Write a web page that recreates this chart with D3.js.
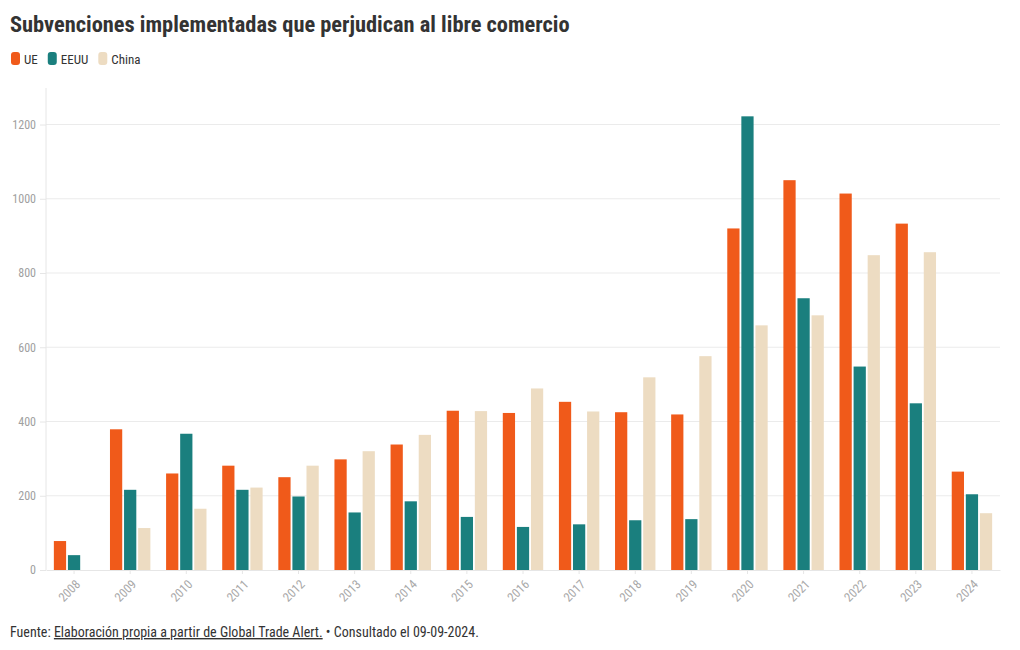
<!DOCTYPE html>
<html>
<head>
<meta charset="utf-8">
<script src="https://cdn.jsdelivr.net/npm/d3@7"></script>
<style>
  html, body { margin: 0; padding: 0; background: #fff; }
  body { font-family: "Roboto Condensed", "Liberation Sans Narrow", "DejaVu Sans Condensed", sans-serif; }
  svg text { font-family: "Roboto Condensed", "Liberation Sans Narrow", "DejaVu Sans Condensed", sans-serif; }
</style>
</head>
<body>
<svg id="chart" width="1020" height="650"></svg>
<script>
const years = ["2008","2009","2010","2011","2012","2013","2014","2015","2016","2017","2018","2019","2020","2021","2022","2023","2024"];
const seriesNames = ["UE", "EEUU", "China"];
const ueValues    = [78, 379, 260, 281, 250, 298, 338, 429, 423, 453, 425, 419, 920, 1050, 1014, 933, 265];
const eeuuValues  = [40, 216, 367, 216, 198, 155, 185, 143, 116, 123, 134, 137, 1222, 732, 548, 449, 204];
const chinaValues = [0, 113, 165, 222, 281, 320, 364, 428, 489, 427, 519, 576, 659, 686, 848, 856, 153];
const yTicks = [0, 200, 400, 600, 800, 1000, 1200];
const colors = ["#f05a1a", "#1a7f7e", "#eddcc2"];

const titleText = "Subvenciones implementadas que perjudican al libre comercio";
const sourceLabel = "Fuente: ";
const sourceLink = "Elaboración propia a partir de Global Trade Alert.";
const sourceTail = " • Consultado el 09-09-2024.";

const valuesBySeries = [ueValues, eeuuValues, chinaValues];
const data = years.map((y, i) => ({ year: y, values: seriesNames.map((s, k) => ({ key: s, value: valuesBySeries[k][i], idx: k })) }));

const svg = d3.select("#chart");
const margin = { top: 88, right: 20, bottom: 80, left: 46 };
const W = 1020, H = 650;
const zeroY = 570;
const FONT = "'Roboto Condensed','Liberation Sans Narrow','DejaVu Sans Condensed',sans-serif";

const x0 = d3.scaleBand().domain(years).range([margin.left, W - margin.right]).paddingInner(0.28).paddingOuter(0.14);
const x1 = d3.scaleBand().domain(seriesNames).range([0, x0.bandwidth()]).paddingInner(0.13);
const y = d3.scaleLinear().domain([0, 1200]).range([zeroY, 124.5]);

// Title
svg.append("text").attr("x", 10).attr("y", 32)
  .attr("font-size", 22.4).attr("font-weight", 700).attr("fill", "#333")
  .text(titleText);

// Legend
const legend = svg.append("g").attr("transform", "translate(11,52)");
let lx = 0;
seriesNames.forEach((s, k) => {
  const g = legend.append("g").attr("transform", `translate(${lx},0)`);
  g.append("rect").attr("x", 0).attr("y", 0).attr("width", 9).attr("height", 13).attr("rx", 3).attr("fill", colors[k]);
  const t = g.append("text").attr("x", 13).attr("y", 11.5).attr("font-size", 13).attr("fill", "#333").text(s);
  lx += 13 + t.node().getComputedTextLength() + 10;
});

// Gridlines
svg.append("g").selectAll("line").data(yTicks.filter(d => d > 0)).join("line")
  .attr("x1", margin.left).attr("x2", W - margin.right)
  .attr("y1", d => y(d)).attr("y2", d => y(d))
  .attr("stroke", "#ebebeb").attr("stroke-width", 1);

// Y axis
const yAxis = svg.append("g").attr("transform", `translate(${margin.left},0)`)
  .call(d3.axisLeft(y).tickValues(yTicks).tickSize(6).tickPadding(4).tickFormat(d3.format("d")));
yAxis.select(".domain").attr("stroke", "#e6e6e6").attr("d", `M0,${margin.top}V${zeroY}`);
yAxis.selectAll(".tick line").attr("stroke", "#e6e6e6");
yAxis.selectAll(".tick text").attr("fill", "#a0a0a0").attr("font-size", 12).style("font-family", FONT);

// Bars
const groups = svg.append("g").selectAll("g").data(data).join("g")
  .attr("transform", d => `translate(${x0(d.year)},0)`);
groups.selectAll("rect").data(d => d.values).join("rect")
  .attr("x", d => x1(d.key))
  .attr("width", x1.bandwidth())
  .attr("y", d => y(d.value))
  .attr("height", d => zeroY - y(d.value))
  .attr("fill", d => colors[d.idx]);

// X axis
const xAxis = svg.append("g").attr("transform", `translate(0,${zeroY})`)
  .call(d3.axisBottom(x0).tickSize(4).tickSizeOuter(0));
xAxis.select(".domain").attr("stroke", "#e6e6e6");
xAxis.selectAll(".tick line").attr("stroke", "#e6e6e6");
xAxis.selectAll(".tick text").attr("fill", "#a8a8a8").attr("font-size", 12.5).style("font-family", FONT)
  .attr("text-anchor", "end").attr("dy", "0.35em")
  .attr("transform", "translate(-1,7) rotate(-45)");

// Footer
const foot = svg.append("text").attr("x", 10).attr("y", 637).attr("font-size", 14).attr("fill", "#333");
foot.append("tspan").text(sourceLabel);
foot.append("tspan").attr("text-decoration", "underline").text(sourceLink);
foot.append("tspan").text(sourceTail);
</script>
</body>
</html>
